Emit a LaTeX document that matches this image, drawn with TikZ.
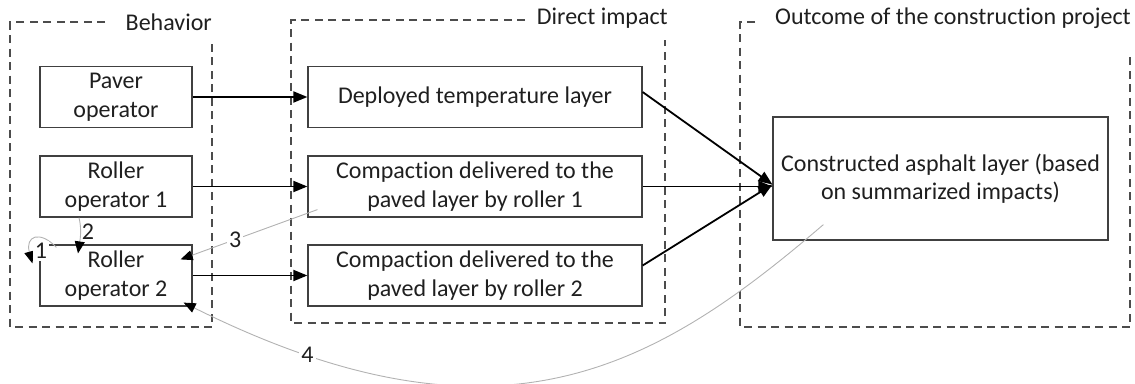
\documentclass[tikz,border=0pt]{standalone}
\usepackage{fontspec}
\setmainfont{Carlito}[Ligatures=NoCommon]
\usetikzlibrary{arrows.meta}
\begin{document}
\begin{tikzpicture}[x=1pt,y=1pt]
	\tikzstyle{every node}+=[inner sep=0pt, text=black!88, font=\fontsize{24}{28.5}\selectfont]
	\tikzstyle{box}=[draw=black!75, line width=1.2pt, align=center, minimum height=61pt]
	\tikzstyle{group}=[draw=black!70, line width=1.4pt, dash pattern=on 8pt off 5.5pt]
	\tikzstyle{flow}=[draw=black, line width=1.8pt, -{Triangle[length=14pt,width=11pt]}]
	\tikzstyle{back}=[draw=black!30, line width=0.9pt, -{Triangle[length=12pt,width=10pt,color=black]}]
	\tikzstyle{num}=[fill=white, inner sep=2pt]
	\useasboundingbox (0,0) rectangle (1135,-383);
	\draw [group] (105,-22) -- (10,-22) -- (10,-327) -- (212,-327) -- (212,-42);
	\draw [group] (525,-20) -- (291,-20) -- (291,-323) -- (665,-323) -- (665,-40);
	\draw [group] (755,-22) -- (740,-22) -- (740,-327) -- (1130,-327) -- (1130,-57);
	\node (behavior) [anchor=east] at (212,-22) {Behavior};
	\node (direct) [anchor=east] at (668,-18) {Direct impact};
	\node (outcome) [anchor=east] at (1131,-18) {Outcome of the construction project};
	\node (paver) [box, minimum width=152pt] at (116,-97) {Paver\\operator};
	\node (roller1) [box, minimum width=152pt] at (116,-186.5) {Roller\\operator 1};
	\node (roller2) [box, minimum width=152pt] at (116,-275.5) {Roller\\operator 2};
	\node (temp) [box, minimum width=334pt] at (475,-97) {Deployed temperature layer};
	\node (comp1) [box, minimum width=334pt] at (475,-186.5) {Compaction delivered to the\\paved layer by roller 1};
	\node (comp2) [box, minimum width=334pt] at (475,-275.5) {Compaction delivered to the\\paved layer by roller 2};
	\node (asphalt) [box, minimum width=335pt, minimum height=123pt] at (940.5,-178.5) {Constructed asphalt layer (based\\on summarized impacts)};
	\coordinate (asphaltin) at ([yshift=-6pt]asphalt.west);
	\draw [flow] (paver) -- (temp);
	\draw [flow] (roller1) -- (comp1);
	\draw [flow] (roller2) -- (comp2);
	\draw [flow] ([yshift=5pt]temp.east) -- (asphaltin);
	\draw [flow] (comp1.east) -- (asphalt.west |- comp1.east);
	\draw [flow] ([yshift=10pt]comp2.east) -- (asphaltin);
	\draw [back] ([xshift=17pt,yshift=-3pt]roller2.north west) .. controls (40,-230) and (25,-236) .. ([xshift=-7pt,yshift=-19pt]roller2.north west);
	\node (one) [num] at (41,-251) {1};
	\draw [back] ([xshift=-37pt]roller1.south) .. controls (82,-230) and (80,-240) .. ([xshift=-38pt,yshift=-9pt]roller2.north) node [pos=0.4, right=1pt] (two) {2};
	\draw [back] ([xshift=10pt,yshift=8pt]comp1.south west) -- ([xshift=-12pt,yshift=-15pt]roller2.north east) node [num, pos=0.6] (three) {3};
	\draw [back] ([xshift=51pt,yshift=16pt]asphalt.south west) .. controls (656,-368) and (500,-460) .. ([xshift=-9pt,yshift=4pt]roller2.south east) node [num, pos=0.86] (four) {4};
\end{tikzpicture}
\end{document}
